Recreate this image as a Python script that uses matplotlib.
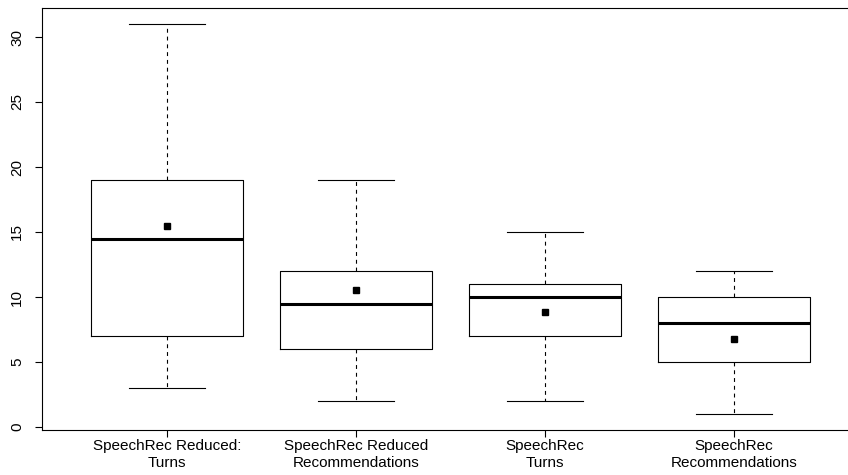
import numpy as np
import matplotlib
matplotlib.use("Agg")
import matplotlib.pyplot as plt

plt.rcParams['font.family'] = ['Liberation Sans', 'DejaVu Sans']

# five-number summaries and means per condition
labels = ["SpeechRec Reduced:\nTurns", "SpeechRec Reduced\nRecommendations",
          "SpeechRec\nTurns", "SpeechRec\nRecommendations"]
whislo = [3, 2, 2, 1]
q1 = [7, 6, 7, 5]
med = [14.5, 9.5, 10, 8]
q3 = [19, 12, 11, 10]
whishi = [31, 19, 15, 12]
means = [15.44, 10.54, 8.82, 6.74]

stats = []
for i in range(len(labels)):
	stats.append(dict(label=labels[i], whislo=whislo[i], q1=q1[i], med=med[i],
	                  q3=q3[i], whishi=whishi[i], mean=means[i], fliers=[]))

W, H = 848, 475
fig = plt.figure(figsize=(W/100, H/100), dpi=100)
# axes box runs a little past the right edge of the canvas
ax = fig.add_axes([42.3/W, 45.4/H, 816.5/W, 421.2/H])

ax.bxp(stats, positions=[1, 2, 3, 4], widths=0.8, showmeans=True, patch_artist=False,
       boxprops=dict(color='black', linewidth=0.8),
       medianprops=dict(color='black', linewidth=2.2, solid_capstyle='butt'),
       whiskerprops=dict(color='black', linewidth=0.8, linestyle=(0, (3.5, 3.5))),
       capprops=dict(color='black', linewidth=0.8),
       capwidths=0.4,
       meanprops=dict(marker='s', markerfacecolor='black', markeredgecolor='black', markersize=5))

ax.set_xlim(0.34, 4.66)
ax.set_ylim(-0.2, 32.2)
ax.set_yticks([0, 5, 10, 15, 20, 25, 30])
ax.set_xticks([1, 2, 3, 4])
ax.set_xticklabels(labels)
for sp in ax.spines.values():
	sp.set_linewidth(0.8)
ax.tick_params(axis='both', direction='out', length=5, width=0.8, labelsize=11)
ax.tick_params(axis='x', pad=2)
ax.tick_params(axis='y', pad=8)
for t in ax.get_yticklabels():
	t.set_rotation(90)
	t.set_va('center')

fig.savefig("out.png", dpi=100)
